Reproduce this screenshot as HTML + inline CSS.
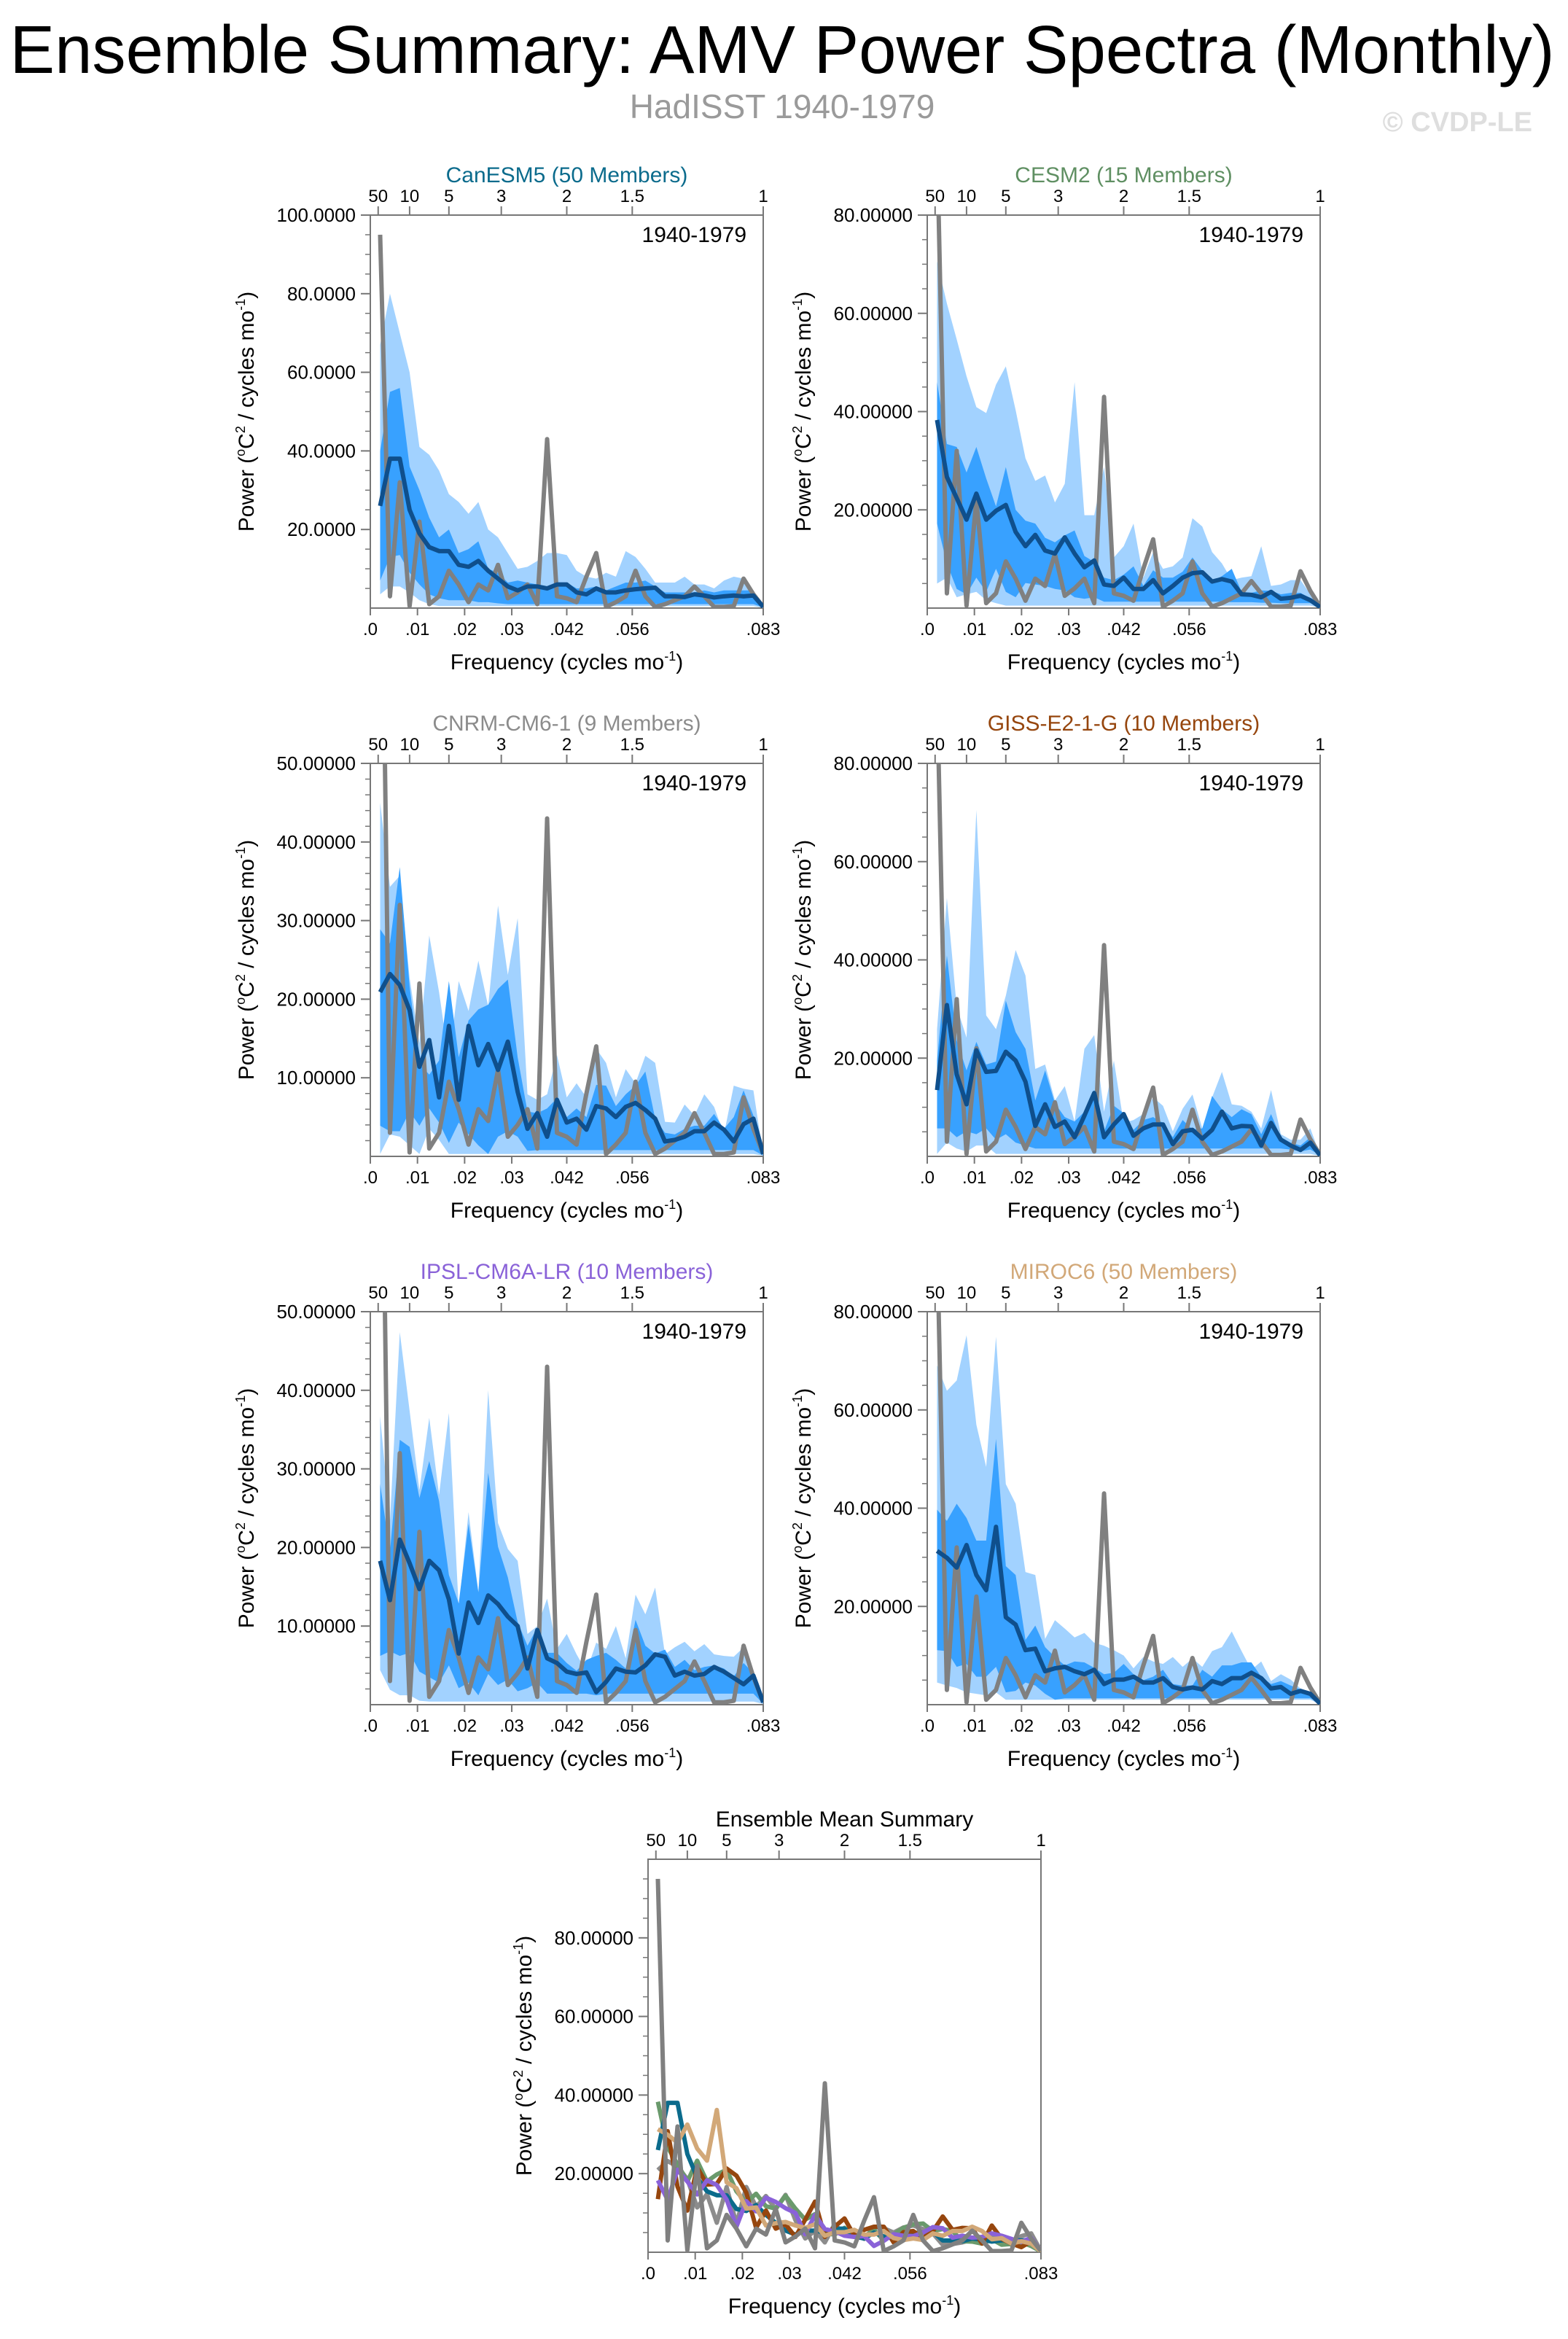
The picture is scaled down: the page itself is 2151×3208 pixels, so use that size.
<!DOCTYPE html>
<html><head><meta charset="utf-8"><title>AMV Power Spectra</title>
<style>
html,body{margin:0;padding:0;background:#fff;}
svg{display:block;font-family:"Liberation Sans",Arial,sans-serif;}
</style></head>
<body>
<svg id="chart" width="2151" height="3208" viewBox="0 0 2151 3208" xmlns="http://www.w3.org/2000/svg">
<rect x="0" y="0" width="2151" height="3208" fill="#fff"/>
<text x="1073" y="100" font-size="93" text-anchor="middle" textLength="2119" lengthAdjust="spacingAndGlyphs" fill="#000">Ensemble Summary: AMV Power Spectra (Monthly)</text>
<text x="1073" y="162" font-size="46" text-anchor="middle" fill="#9a9a9a">HadISST 1940-1979</text>
<text x="2102" y="180" font-size="38" font-weight="bold" text-anchor="end" fill="#dedede">© CVDP-LE</text>
<g id="plots"></g>
</svg>
<script>
// ---- data (k = 1..40, frequency k/480 cycles/mo) ----
const obs = [95,3,32,0.5,22,1,3,9.5,6,1.5,6,4.5,11,2.5,4,6,1,43,3,2.5,1.5,8,14,0.3,1.5,3,9.5,3,0.3,1,2,3,5.5,3,0.3,0.3,0.5,7.5,3.5,0.3];

const canMean   = [26,38,38,25,19,15.5,14.5,14.5,11,10.5,12,9.5,7.5,5.5,4.5,5.5,5.5,5,6,6,4,3.5,5,4,4,4.5,4.8,5,5.2,3,3,2.8,3.5,3.2,2.7,3,3.2,3,3.2,0.3];
const canDarkHi = [40,55,56,36,30,23,18,20,14,15,17,10,9,6.5,7,6.5,6,5.5,6.5,6.5,5,5,5.5,4.5,5.5,6.5,6.5,7,5.5,4,4,4,4,4.5,4,4.5,4.5,4.5,4.5,0.5];
const canDarkLo = [7,13,13.5,9,6,3.5,2.5,2,2,2,1.5,1.5,1.2,1,1,1,1,1,1,1,1,1,1,1,1,1,1,1,1,1,1,1,1,1,1,1,1,1,1,0.2];
const canLightHi= [67,80,70,60,41,39,35,29,27,24,27,20,18,14,10,10.5,12,14,14,13.5,9.5,8,7.5,9,8,14.5,13,10,6.5,6.5,6.5,8,6,6,5,7,8,7.5,2,0.5];
const canLightLo= [3.5,5.5,5.5,4,2,1,0.5,0.5,0.5,0.5,0.5,0.5,0.5,0.5,0.5,0.5,0.5,0.5,0.5,0.5,0.5,0.5,0.5,0.5,0.5,0.5,0.5,0.5,0.5,0.5,0.5,0.5,0.5,0.5,0.5,0.5,0.5,0.5,0.5,0.1];

const cesmMean   = [38.3,26.7,22.4,18,23.3,18,19.8,21,15.5,12.6,14.9,11.7,11.1,14.4,11.1,8.3,9.7,4.8,4.5,6.2,3.9,3.9,5.7,3,4.5,6.2,7.1,7.3,5.4,5.9,5.4,2.8,2.7,2.2,3.3,1.9,2.1,2.5,1.6,0.2];
const cesmDarkHi = [46,33.4,32.8,27.6,32.8,26.4,20.7,28.7,20,17.8,17.2,14.3,13.4,14.8,15.8,10.6,9.4,6.2,5.7,6.8,8.5,4.5,7.7,6.2,6.2,7.4,10.3,7.6,5.5,6.5,8,3.3,3.1,3.6,3.5,2.8,3.1,3.1,2,0.2];
const cesmDarkLo = [17.2,9.1,3.9,2.8,6.2,3.3,8,3.3,2.2,5.1,4.8,4.5,3.9,3.6,2.2,1.9,2.2,1.3,1.3,1.3,1.3,1.3,1.3,1.3,1.3,1.3,1.3,1.3,1.3,1.3,1.2,1.2,1.2,1.1,1.1,1,1,1,1,0.2];
const cesmLightHi= [70.6,62,54.7,47.2,40.9,39.7,45.5,49.2,40.3,30.5,25.9,27,21.5,25.3,46,18.9,18.9,28.7,10.3,12.6,17.2,6.2,11.4,8,8.5,10.3,18.3,16.6,11.4,9.1,5.7,6.2,6.5,12.6,4.5,4.8,5.7,5.7,2.8,0.2];
const cesmLightLo= [5,6.2,2.2,2.8,3.3,1.6,1,0.5,0.5,0.5,0.5,0.5,0.5,0.5,0.5,0.5,0.5,0.5,0.5,0.5,0.5,0.5,0.5,0.5,0.5,0.5,0.5,0.5,0.5,0.5,0.5,0.5,0.5,0.5,0.5,0.5,0.5,0.5,0.5,0.1];

const cnrmMean   = [20.9,23.2,21.8,18.6,11.4,14.8,7.5,16.6,7.2,16.6,11.6,14.3,11,14.6,8.2,3.5,5.5,2.5,7.2,4.3,4.8,3.4,6.4,6.1,5,6.3,6.8,5.9,4.8,1.9,2.1,2.5,3.2,3.2,4.3,3.4,1.9,4.1,4.8,0.3];
const cnrmDarkHi = [28.9,27.1,36.8,21.6,11.8,10.4,12.2,22.3,12.6,17.3,18.7,19.3,21.3,22.5,12.6,5.7,5.5,6.1,7.4,5,6.1,5,9.1,9,6.4,7.9,9,10.8,4.8,3,2.8,3.5,3.9,3.9,5.4,3.5,5,8.4,5.2,0.1];
const cnrmDarkLo = [3.9,3.2,3.2,5.7,3.9,6.1,4.3,1.7,4.3,2.8,1.4,0.3,2.5,3.2,2.5,0.7,0.8,0.8,0.8,0.8,0.8,0.8,0.8,0.8,0.8,0.8,0.8,0.8,0.8,0.8,0.8,0.8,0.8,0.8,0.8,0.8,0.8,0.8,0.8,0.1];
const cnrmLightHi= [45,34.3,35.7,22.7,14.4,28.1,20.9,12.2,22.3,18.5,24.9,19.1,31.9,23.1,30.3,7.9,7.2,7.9,12.9,7.5,9.3,7.5,13.7,11.9,7.5,11.1,9.3,12.8,11.9,4.4,4.3,6.6,5.2,7.9,6.3,2.8,9,8.6,8.4,0.1];
const cnrmLightLo= [0.3,2.8,2.5,1.4,0.3,3.5,2.1,0.3,0.3,0.3,0.3,0.3,0.3,0.3,0.3,0.3,0.3,0.3,0.3,0.3,0.3,0.3,0.3,0.3,0.3,0.3,0.3,0.3,0.3,0.3,0.3,0.3,0.3,0.3,0.3,0.3,0.3,0.3,0.3,0.1];

const gissMean   = [13.5,30.8,16.7,10.6,21.6,17.2,17.4,21.3,19.5,15.2,6.2,10.6,6,7.1,3.9,8.3,12.9,3.9,6.5,8.6,4.2,5.7,6.5,6.5,2.5,5.1,5.4,3.6,5.4,9.1,5.7,6.2,6.1,2.2,6.8,3.4,2.2,1.3,2.8,0.2];
const gissDarkHi = [19.5,40.9,23.6,17.5,23.3,18.7,19.3,31.7,25.3,21.9,11.4,17.5,10.8,8,7.1,9.1,13.5,5.1,10.3,8.8,5.4,7.4,8,6.8,3.9,7.4,5.5,5.7,12.3,9.6,8,9.6,8.6,4.5,8.6,3.9,2.8,2.2,3.9,0.2];
const gissDarkLo = [5.7,5.7,3.9,5.1,4.5,5.7,3.4,4.5,2.8,2.2,1.6,1.6,1.6,1.6,1.6,1.6,1.6,1.6,1.6,1.6,1.6,1.6,1.6,1.6,1.6,1.6,1.6,1.6,1.6,1.6,1.6,1.6,1.6,1.6,1.6,1.6,1.4,1,1.4,0.2];
const gissLightHi= [25.9,52.6,30.4,24.2,70.5,28.7,25.9,32.7,42,36.8,17.8,18.7,11.4,14.3,7.1,21.9,24.7,9.1,19.5,6.8,7.4,8.6,12,10.3,5.1,9.7,12.6,5.7,12,17.2,10.6,10.3,9.1,5.7,13.5,4.5,3.4,3.4,5.7,0.2];
const gissLightLo= [0.5,2.8,1.6,1,2.2,2.2,0.5,0.5,0.5,0.5,0.5,0.5,0.5,0.5,0.5,0.5,0.5,0.5,0.5,0.5,0.5,0.5,0.5,0.5,0.5,0.5,0.5,0.5,0.5,0.5,0.5,0.5,0.5,0.5,0.5,0.5,0.5,0.5,0.5,0.1];

const ipslMean   = [18.3,13.3,21,18,14.7,18.3,17.1,13.4,6.5,13,10.4,13.9,12.8,11.2,10,4.6,9.5,5.9,5.3,4.2,3.9,4.1,1.6,2.9,4.6,4.2,4.1,5,6.4,6.1,3.7,4.2,3.7,3.9,4.8,4.2,3.4,2.6,3.7,0.3];
const ipslDarkHi = [28.1,19.4,33.7,32.8,26.3,31,25.9,16.5,12.9,23,14.3,29.5,20.1,16.2,10.5,7.5,9.8,6.6,6.6,5.3,4.3,5.7,6.2,6.6,5.7,4.6,10.8,7.5,6.5,7,4.8,5.7,4.4,4.8,5,4.6,3.6,5.3,4,0.1];
const ipslDarkLo = [6.2,6.8,6.2,6.6,4.2,3.5,2.8,5,2.1,2.8,1.2,3.9,2.5,3.2,1.7,2.1,2.8,1.4,1.4,1.4,1.4,1.4,1.2,1.4,1.4,1.4,1.4,1.4,1.4,1.4,1.4,1.4,1.4,1.4,1.4,1.4,1.4,1.4,1.4,0.1];
const ipslLightHi= [36.7,23.4,47.4,37.4,27.3,36.5,26.7,37.1,12.2,24.5,14.3,40,23.1,19.8,18.3,9,10,13.5,7.1,9,6.4,4.2,7.9,7.1,10,5.9,14,11.5,14.9,6.4,7.3,8,6.8,7.7,6.4,6.2,6.1,7.3,4.2,0.1];
const ipslLightLo= [4.4,1.9,1.2,1.2,0.5,0.4,0.4,0.4,0.4,0.4,0.4,0.4,0.4,0.4,0.4,0.4,0.4,0.4,0.4,0.4,0.4,0.4,0.4,0.4,0.4,0.4,0.4,0.4,0.4,0.4,0.4,0.4,0.4,0.4,0.4,0.4,0.4,0.4,0.4,0.1];

const mirocMean   = [31.3,29.9,27.9,32.5,26.4,23.3,36.2,17.8,16.3,11.1,11.4,6.8,7.4,7.7,6.8,6.2,7.1,4.2,5.1,5.1,5.7,4.5,4.5,5.4,3.6,3.1,3.5,3.1,4.8,4.2,5.4,5.4,6.5,5.4,3.3,3.6,2.2,2.8,2.2,0.2];
const mirocDarkHi = [39.7,37.4,40.9,38,33.4,33.4,54.1,28.2,26.4,13.2,16.1,11.7,9.7,8,8.8,8.6,7.5,6.2,6.5,8.3,6.2,5,5.7,7.1,4.2,3.9,3.9,7.1,5.7,8,8,8.6,8.6,5.7,4.2,4.8,3.9,3.1,2.5,0.2];
const mirocDarkLo = [11.1,10.9,7.7,8.3,5.7,5.7,7.7,2.5,2.8,4.5,3.9,2.2,1,1.3,1.3,1.3,1.3,1.3,1.3,1.3,1.3,1.3,1.3,1.3,1.3,1.3,1.3,1.3,1.3,1.3,1.3,1.3,1.3,1.3,1.3,1.3,1.3,1.3,1.3,0.2];
const mirocLightHi= [69.1,63.9,66,75.2,57,48.4,74.9,44.9,40.9,27,26.4,13.4,17.2,15.5,13.7,14.6,12.6,12,11.1,10,7.4,9.7,8.8,8.3,9.7,7.7,9.4,7.7,10.9,11.7,14.9,10.9,7.1,8.8,4.8,6.2,5.1,3.3,2.5,0.2];
const mirocLightLo= [4.5,3.9,3.4,2.5,2.2,1.9,2.5,1,1,1,1,1,1,1,1,1,1,1,1,1,1,1,1,1,1,1,1,1,1,1,1,1,1,1,1,1,1,1,1,0.1];

const periodTicks = [50,10,5,3,2,1.5,1];
const freqTickVals = [0,0.01,0.02,0.03,1/24,1/18,1/12];
const freqTickLabels = [".0",".01",".02",".03",".042",".056",".083"];

const NS = "http://www.w3.org/2000/svg";
const root = document.getElementById("plots");
let clipId = 0;

function el(tag, attrs, parent) {
  const e = document.createElementNS(NS, tag);
  for (const k in attrs) e.setAttribute(k, attrs[k]);
  (parent || root).appendChild(e);
  return e;
}
function txt(parent, x, y, s, size, anchor, fill) {
  const t = el("text", {x: x, y: y, "font-size": size, "text-anchor": anchor || "middle", fill: fill || "#000"}, parent);
  t.textContent = s;
  return t;
}

function drawAxes(g, L, T, S, ymax, yLabels, yFmt, minorStep, title, titleColor, showYears) {
  const xs = f => L + f / (1/12) * S;
  const ys = v => T + S - v / ymax * S;
  el("rect", {x: L, y: T, width: S, height: S, fill: "none", stroke: "#777", "stroke-width": 2}, g);
  // top period ticks
  periodTicks.forEach(p => {
    const x = xs(1 / (12 * p));
    el("line", {x1: x, y1: T, x2: x, y2: T - 12, stroke: "#777", "stroke-width": 2}, g);
    const t = txt(g, x, T - 18, String(p), 24);
    
    
  });
  // bottom freq ticks
  freqTickVals.forEach((f, i) => {
    const x = xs(f);
    el("line", {x1: x, y1: T + S, x2: x, y2: T + S + 10, stroke: "#777", "stroke-width": 2}, g);
    const t = txt(g, x, T + S + 37, freqTickLabels[i], 24);
    
    
  });
  // y minor ticks
  for (let v = minorStep; v < ymax - 1e-6; v += minorStep) {
    el("line", {x1: L, y1: ys(v), x2: L - 7, y2: ys(v), stroke: "#777", "stroke-width": 1.5}, g);
  }
  yLabels.forEach(v => {
    el("line", {x1: L, y1: ys(v), x2: L - 13, y2: ys(v), stroke: "#777", "stroke-width": 2}, g);
    const t = txt(g, L - 20, ys(v) + 9, v.toFixed(yFmt), 26, "end");
    
    
  });
  // axis titles
  const xt = el("text", {x: L + S / 2, y: T + S + 84, "font-size": 30, "text-anchor": "middle"}, g);
  
  
  xt.innerHTML = 'Frequency (cycles mo<tspan dy="-12" font-size="18">-1</tspan><tspan dy="12">)</tspan>';
  const yt = el("text", {x: 0, y: 0, "font-size": 30, "text-anchor": "middle", transform: "translate(" + (L - 160) + "," + (T + S / 2) + ") rotate(-90)"}, g);
  
  
  yt.innerHTML = 'Power (<tspan dy="-12" font-size="18">o</tspan><tspan dy="12">C</tspan><tspan dy="-12" font-size="18">2</tspan><tspan dy="12"> / cycles mo</tspan><tspan dy="-12" font-size="18">-1</tspan><tspan dy="12">)</tspan>';
  const tt = txt(g, L + S / 2, T - 45, title, 30, "middle", titleColor);
  
  
  if (showYears) {
    const yr = txt(g, L + S - 23, T + 37, "1940-1979", 30, "end");
    
    
  }
  return {xs: xs, ys: ys};
}

function clipGroup(g, L, T, S) {
  const id = "clip" + (clipId++);
  const cp = el("clipPath", {id: id}, g);
  el("rect", {x: L, y: T, width: S, height: S}, cp);
  return el("g", {"clip-path": "url(#" + id + ")"}, g);
}
function bandPath(hi, lo, sc) {
  let d = "";
  hi.forEach((v, i) => { d += (i ? "L" : "M") + sc.xs((i + 1) / 480) + "," + sc.ys(v); });
  for (let i = lo.length - 1; i >= 0; i--) d += "L" + sc.xs((i + 1) / 480) + "," + sc.ys(lo[i]);
  return d + "Z";
}
function linePath(vals, sc) {
  return vals.map((v, i) => (i ? "L" : "M") + sc.xs((i + 1) / 480) + "," + sc.ys(v)).join("");
}

function panel(L, T, ymax, yLabels, yFmt, minorStep, title, color, mean, dHi, dLo, lHi, lLo) {
  const g = el("g", {});
  
  
  const S = 539;
  const sc = drawAxes(g, L, T, S, ymax, yLabels, yFmt, minorStep, title, color, true);
  const c = clipGroup(g, L, T, S);
  const lb = el("path", {d: bandPath(lHi, lLo, sc), fill: "#a2d2ff"}, c);
  
  
  const db = el("path", {d: bandPath(dHi, dLo, sc), fill: "#38a1ff"}, c);
  
  
  const ob = el("path", {d: linePath(obs, sc), fill: "none", stroke: "#808080", "stroke-width": 6, "stroke-linejoin": "round"}, c);
  
  
  const mn = el("path", {d: linePath(mean, sc), fill: "none", stroke: "#0f4f8c", "stroke-width": 6, "stroke-linejoin": "round"}, c);
  
  
}

const cX = [508, 1272], rY = [295, 1047, 1799];
panel(cX[0], rY[0], 100, [20,40,60,80,100], 4, 5, "CanESM5 (50 Members)", "#0b6b8c", canMean, canDarkHi, canDarkLo, canLightHi, canLightLo);
panel(cX[1], rY[0], 80, [20,40,60,80], 5, 5, "CESM2 (15 Members)", "#5f8f62", cesmMean, cesmDarkHi, cesmDarkLo, cesmLightHi, cesmLightLo);
panel(cX[0], rY[1], 50, [10,20,30,40,50], 5, 2, "CNRM-CM6-1 (9 Members)", "#8c8c8c", cnrmMean, cnrmDarkHi, cnrmDarkLo, cnrmLightHi, cnrmLightLo);
panel(cX[1], rY[1], 80, [20,40,60,80], 5, 5, "GISS-E2-1-G (10 Members)", "#96460e", gissMean, gissDarkHi, gissDarkLo, gissLightHi, gissLightLo);
panel(cX[0], rY[2], 50, [10,20,30,40,50], 5, 2, "IPSL-CM6A-LR (10 Members)", "#8a62d8", ipslMean, ipslDarkHi, ipslDarkLo, ipslLightHi, ipslLightLo);
panel(cX[1], rY[2], 80, [20,40,60,80], 5, 5, "MIROC6 (50 Members)", "#d2a878", mirocMean, mirocDarkHi, mirocDarkLo, mirocLightHi, mirocLightLo);

// summary
(function () {
  const g = el("g", {});
  
  
  const L = 889, T = 2550, S = 539;
  const sc = drawAxes(g, L, T, S, 100, [20,40,60,80], 5, 5, "Ensemble Mean Summary", "#000", false);
  const c = clipGroup(g, L, T, S);
  const series = [
    [cnrmMean, "#8c8c8c", "cnrm-mean-line"],
    [cesmMean, "#6a9a6c", "cesm2-mean-line"],
    [canMean, "#0b6b8c", "canesm5-mean-line"],
    [gissMean, "#96460e", "giss-mean-line"],
    [ipslMean, "#8a62d8", "ipsl-mean-line"],
    [mirocMean, "#d2a878", "miroc6-mean-line"]
  ];
  series.forEach(s => {
    const p = el("path", {d: linePath(s[0], sc), fill: "none", stroke: s[1], "stroke-width": 6, "stroke-linejoin": "round"}, c);
    
    
  });
  const ob = el("path", {d: linePath(obs, sc), fill: "none", stroke: "#808080", "stroke-width": 6, "stroke-linejoin": "round"}, c);
  
  
})();
</script>
</body></html>
